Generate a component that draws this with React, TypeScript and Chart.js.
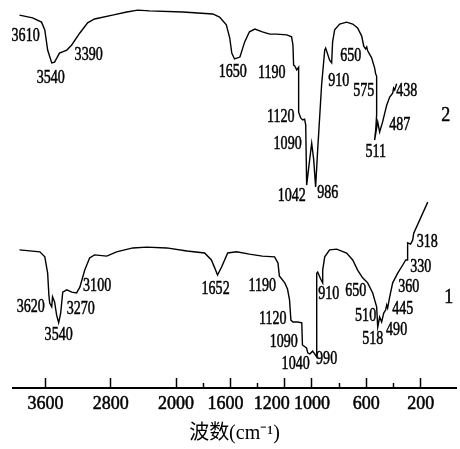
import { useEffect, useRef } from 'react';
import { Chart, registerables, LinearScale } from 'chart.js';

// ---------------- data ----------------
// Spectrum 2 (upper trace): wavenumber (cm-1) and transmittance (arbitrary %)
const WAVENUMBER_2 = [
  3920, 3760, 3650, 3610, 3575, 3525, 3490, 3430, 3340, 3280, 3180, 3085, 3000, 2780, 2605, 2470, 2325,
  1950, 1730, 1680, 1630, 1605, 1590, 1570, 1530, 1495, 1460, 1420, 1365, 1310, 1260, 1185, 1150, 1140,
  1135, 1127, 1112, 1098, 1098, 1083, 1068, 1054, 1046, 1039, 1017, 1002, 987, 973, 958, 929, 906, 899,
  870, 855, 848, 833, 796, 745, 700, 664, 634, 619, 605, 597, 590, 561, 539, 531, 524, 524, 531, 539,
  524, 516, 502, 480, 450, 428, 406, 399, 391, 377,
];
const TRANSMITTANCE_2 = [
  96.1, 95.4, 94.3, 92.3, 87.1, 83.8, 84.0, 86.3, 87.1, 88.4, 91.5, 94.1, 95.1, 96.1, 96.9, 97.4, 97.2,
  96.9, 96.4, 95.6, 93.6, 90.2, 86.3, 84.8, 85.3, 89.2, 91.8, 92.5, 91.8, 91.2, 91.2, 91.0, 90.5, 88.4,
  83.2, 83.0, 82.0, 82.7, 71.1, 69.6, 69.1, 69.3, 67.8, 52.3, 58.8, 63.1, 58.8, 51.8, 61.3, 78.1, 87.1, 87.6,
  84.5, 83.8, 89.2, 92.3, 93.8, 94.3, 93.8, 92.8, 90.7, 88.1, 87.4, 87.9, 86.9, 85.1, 82.5, 80.9, 80.4, 70.4, 66.5, 63.9,
  67.0, 68.6, 66.0, 68.6, 72.9, 75.0, 76.0, 77.3, 76.8, 78.4,
];

// Spectrum 1 (lower trace)
const WAVENUMBER_1 = [
  3920, 3670, 3610, 3575, 3560, 3550, 3525, 3515, 3490, 3465, 3440, 3415, 3390, 3340, 3280, 3220, 3180,
  3120, 3060, 3000, 2850, 2730, 2530, 2360, 2115, 1920, 1790, 1740, 1715, 1695, 1665, 1620, 1555, 1460,
  1365, 1275, 1250, 1240, 1200, 1180, 1165, 1155, 1140, 1105, 1075, 1070, 1040, 1030, 1015, 995, 980,
  965, 965, 958, 936, 921, 921, 906, 870, 818, 745, 700, 664, 627, 590, 553, 524, 516, 502, 487, 472,
  458, 450, 443, 428, 406, 369, 332, 310, 296, 296, 274, 259, 251, 148,
];
const TRANSMITTANCE_1 = [
  35.6, 35.1, 33.8, 29.6, 24.0, 21.9, 20.9, 23.5, 22.2, 18.8, 16.8, 19.3, 24.7, 25.3, 24.7, 24.5, 26.0,
  30.4, 33.5, 34.3, 34.0, 35.1, 36.1, 36.3, 36.1, 35.3, 34.8, 33.0, 30.9, 29.1, 31.2, 34.8, 35.1, 34.5,
  34.0, 33.8, 32.2, 28.9, 27.1, 25.5, 22.7, 17.5, 17.0, 17.0, 16.8, 11.1, 10.3, 9.0, 8.8, 9.5, 8.8,
  8.0, 29.6, 29.9, 28.1, 27.1, 30.4, 33.8, 35.6, 35.8, 34.8, 33.0, 30.4, 28.4, 27.1, 24.5, 20.9, 15.7, 18.3, 17.0, 19.3,
  20.1, 21.4, 20.6, 23.5, 27.1, 29.6, 31.7, 33.0, 33.0, 37.4, 37.1, 38.1, 39.9, 47.9,
];

// Peak annotations (text, anchored in data units)
const PEAK_TEXT_2 = ['3610', '3540', '3390', '1650', '1190', '1120', '1090', '1042', '986', '910', '650', '575', '438', '487', '511'];
const PEAK_AT_W_2 = [3845, 3538, 3072, 1583, 1296, 1230, 1179, 1149, 884, 803, 715, 619, 303, 354, 531];
const PEAK_AT_T_2 = [90.6, 79.9, 85.8, 81.3, 81.2, 69.8, 62.9, 49.5, 50.3, 79.1, 85.4, 76.4, 76.4, 67.8, 60.8];

const PEAK_TEXT_1 = ['3620', '3540', '3270', '3100', '1652', '1190', '1120', '1090', '1040', '990', '910', '650', '510', '518', '490', '445', '360', '330', '318'];
const PEAK_AT_W_1 = [3783, 3440, 3170, 2968, 1709, 1366, 1289, 1208, 1120, 892, 877, 678, 605, 553, 377, 332, 288, 200, 152];
const PEAK_AT_T_1 = [20.7, 13.7, 20.4, 26.2, 25.5, 26.3, 17.8, 11.7, 6.2, 7.5, 24.2, 25.0, 18.6, 12.6, 14.9, 20.4, 25.9, 31.1, 37.5];

// Trace identifiers
const TRACE_NAMES = ['2', '1'];
const TRACE_NAME_W = [16, -6];
const TRACE_NAME_T = [70.1, 23.2];

// Axis
const X_MIN = -60;
const X_MAX = 4000;
const MAJOR_TICKS = [3600, 2800, 2000, 1600, 1200, 1000, 600, 200];
const MINOR_TICKS = [1800, 1400, 800, 400];
const X_TITLE = '波数(cm⁻¹)';

// ---------------- style ----------------
const SCALE_BREAK = 2000;
const HIGH_RANGE_COMPRESSION = 0.6;
const TICK_LABEL_NUDGE: Record<number, number> = { 1600: -5, 1200: -13 };
const SERIF = '"Liberation Serif", "Noto Sans CJK SC", serif';

class WavenumberScale extends LinearScale {
  static id = 'wavenumber';
  toU(v: number) {
    return v <= SCALE_BREAK ? v : SCALE_BREAK + (v - SCALE_BREAK) * HIGH_RANGE_COMPRESSION;
  }
  fromU(u: number) {
    return u <= SCALE_BREAK ? u : SCALE_BREAK + (u - SCALE_BREAK) / HIGH_RANGE_COMPRESSION;
  }
  getPixelForValue(value: any) {
    if (value === null || value === undefined || isNaN(value)) return NaN;
    const u0 = this.toU(this.min);
    const u1 = this.toU(this.max);
    return this.getPixelForDecimal((this.toU(value) - u0) / (u1 - u0));
  }
  getValueForPixel(pixel: number) {
    const u0 = this.toU(this.min);
    const u1 = this.toU(this.max);
    return this.fromU(u0 + this.getDecimalForPixel(pixel) * (u1 - u0));
  }
  _computeLabelItems(chartArea: any) {
    // @ts-ignore
    const items = super._computeLabelItems(chartArea);
    const ticks = (this as any).ticks || [];
    items.forEach((item: any, i: number) => {
      const t = ticks[i];
      if (!t) return;
      const nudge = TICK_LABEL_NUDGE[t.value];
      if (nudge && item.options && item.options.translation) {
        item.options.translation = [item.options.translation[0] + nudge, item.options.translation[1]];
      }
    });
    return items;
  }
}

Chart.register(...registerables, WavenumberScale);

const textPlugin = {
  id: 'spectrumText',
  afterDatasetsDraw(chart: any) {
    const { ctx, scales } = chart;
    const x = scales.x;
    const y = scales.y;
    const drawSet = (texts: string[], ws: number[], ts: number[], size: number, sx: number) => {
      ctx.save();
      ctx.fillStyle = '#000';
      ctx.strokeStyle = '#000';
      ctx.lineWidth = 0.5;
      ctx.textAlign = 'center';
      ctx.textBaseline = 'middle';
      ctx.font = `${size}px ${SERIF}`;
      texts.forEach((t, i) => {
        const px = x.getPixelForValue(ws[i]);
        const py = y.getPixelForValue(ts[i]);
        ctx.save();
        ctx.translate(px, py);
        ctx.scale(sx, 1);
        ctx.fillText(t, 0, 0);
        ctx.strokeText(t, 0, 0);
        ctx.restore();
      });
      ctx.restore();
    };
    drawSet(PEAK_TEXT_2, PEAK_AT_W_2, PEAK_AT_T_2, 18, 0.78);
    drawSet(PEAK_TEXT_1, PEAK_AT_W_1, PEAK_AT_T_1, 18, 0.78);
    drawSet(TRACE_NAMES, TRACE_NAME_W, TRACE_NAME_T, 20, 0.9);
  },
};

function toPoints(ws: number[], ts: number[]) {
  return ws.map((w, i) => ({ x: w, y: ts[i] }));
}

export default function App() {
  const ref = useRef<HTMLCanvasElement | null>(null);

  useEffect(() => {
    if (!ref.current) return;
    const chart = new Chart(ref.current, {
      type: 'line',
      data: {
        datasets: [
          {
            label: '2',
            data: toPoints(WAVENUMBER_2, TRANSMITTANCE_2),
            borderColor: '#000',
            borderWidth: 1.4,
            pointRadius: 0,
            tension: 0,
            fill: false,
          },
          {
            label: '1',
            data: toPoints(WAVENUMBER_1, TRANSMITTANCE_1),
            borderColor: '#000',
            borderWidth: 1.4,
            pointRadius: 0,
            tension: 0,
            fill: false,
          },
        ],
      },
      options: {
        responsive: false,
        animation: false,
        events: [],
        layout: { padding: { left: 13, right: 4, top: 0, bottom: 0 } },
        plugins: {
          legend: { display: false },
          tooltip: { enabled: false },
          title: { display: false },
        },
        scales: {
          x: {
            type: 'wavenumber' as any,
            position: 'bottom',
            reverse: true,
            min: X_MIN,
            max: X_MAX,
            afterBuildTicks: (s: any) => {
              s.ticks = MAJOR_TICKS.map((v) => ({ value: v }));
            },
            afterFit: (s: any) => {
              s.height = 61;
            },
            grid: {
              display: true,
              drawOnChartArea: false,
              drawTicks: true,
              tickLength: -10,
              tickWidth: 1.5,
              tickColor: '#000',
            },
            border: { display: true, color: '#000', width: 2 },
            ticks: {
              autoSkip: false,
              maxRotation: 0,
              minRotation: 0,
              padding: 15,
              color: '#000',
              textStrokeColor: '#000',
              textStrokeWidth: 0.5,
              font: { family: SERIF, size: 18 },
              callback: (v: any) => String(v),
            },
            title: {
              display: true,
              text: X_TITLE,
              color: '#000',
              font: { family: SERIF, size: 20 },
              padding: { top: 0, bottom: 3 },
            },
          } as any,
          x2: {
            type: 'wavenumber' as any,
            position: 'bottom',
            weight: -1,
            reverse: true,
            min: X_MIN,
            max: X_MAX,
            afterBuildTicks: (s: any) => {
              s.ticks = MINOR_TICKS.map((v) => ({ value: v }));
            },
            afterFit: (s: any) => {
              s.height = 0;
            },
            grid: {
              display: true,
              drawOnChartArea: false,
              drawTicks: true,
              tickLength: -5,
              tickWidth: 1.5,
              tickColor: '#000',
            },
            border: { display: false },
            ticks: { display: false },
          } as any,
          y: {
            display: false,
            min: 0,
            max: 100,
          },
        },
      },
      plugins: [textPlugin],
    });
    return () => chart.destroy();
  }, []);

  return (
    <div style={{ position: 'fixed', left: 0, top: 0, width: 460, height: 449, background: '#fff' }}>
      <canvas ref={ref} width={460} height={449} style={{ display: 'block' }} />
    </div>
  );
}
